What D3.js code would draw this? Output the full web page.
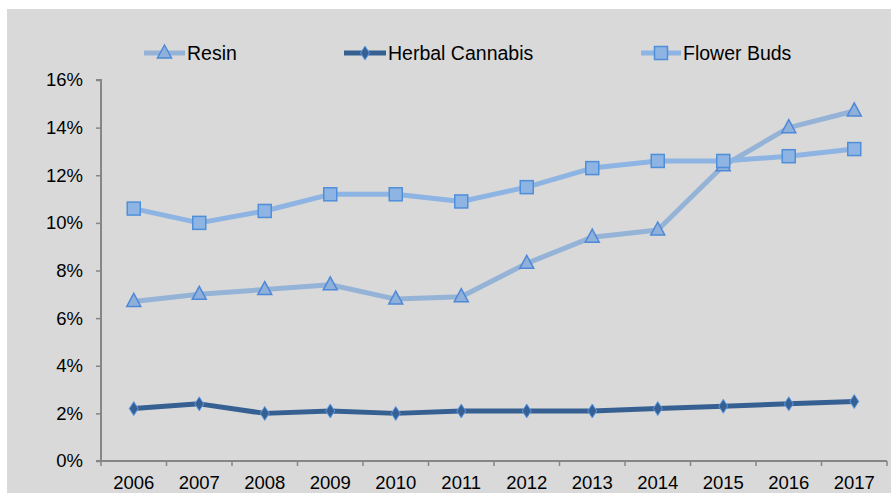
<!DOCTYPE html>
<html><head><meta charset="utf-8">
<script src="https://cdn.jsdelivr.net/npm/d3@7"></script>
<style>body{margin:0;background:#fff}svg{display:block}text{font-family:"Liberation Sans",Arial,sans-serif;fill:#000}</style>
</head><body><svg id="c" width="891" height="497"></svg>
<script>
const years = ["2006","2007","2008","2009","2010","2011","2012","2013","2014","2015","2016","2017"];
const resin = [6.7,7.0,7.2,7.4,6.8,6.9,8.3,9.4,9.7,12.4,14.0,14.7];
const herbal = [2.2,2.4,2.0,2.1,2.0,2.1,2.1,2.1,2.2,2.3,2.4,2.5];
const flowerBuds = [10.6,10.0,10.5,11.2,11.2,10.9,11.5,12.3,12.6,12.6,12.8,13.1];
const yTicks = [0,2,4,6,8,10,12,14,16];

const svg = d3.select("#c");
svg.append("rect").attr("x",7).attr("y",9).attr("width",884).attr("height",484).attr("fill","#d9d9d9");

const x = d3.scaleBand().domain(years).range([101,887]);
const y = d3.scaleLinear().domain([0,16]).range([461,80]);

// y axis
const ya = svg.append("g").attr("transform","translate(101,0)")
  .call(d3.axisLeft(y).tickValues(yTicks).tickFormat(d=>d+"%").tickSize(5).tickPadding(13));
ya.select(".domain").attr("stroke","#868686").attr("stroke-width",2).attr("d","M-5,80H0V461H-5");
ya.selectAll(".tick line").attr("stroke","#868686").attr("stroke-width",1.5);
ya.selectAll("text").attr("font-size",18.5).style("font-family","'Liberation Sans',Arial,sans-serif").attr("fill","#000");

// x axis
const xa = svg.append("g").attr("transform","translate(0,461)");
xa.append("line").attr("x1",97).attr("x2",887).attr("y1",0).attr("y2",0).attr("stroke","#868686").attr("stroke-width",2);
const bounds = years.map(d=>x(d)).concat([x.range()[1]]);
xa.selectAll("line.t").data(bounds).join("line").attr("class","t")
  .attr("x1",d=>d).attr("x2",d=>d).attr("y1",0).attr("y2",5).attr("stroke","#868686").attr("stroke-width",1.5);
xa.selectAll("text").data(years).join("text")
  .attr("x",d=>x(d)+x.bandwidth()/2).attr("y",28).attr("text-anchor","middle").attr("font-size",18.5).text(d=>d);

const cx = d=>x(d)+x.bandwidth()/2;
const line = d3.line().x((v,i)=>cx(years[i])).y(v=>y(v));

const series = [
  {name:"Resin", data:resin, line:"#95b3d7", fill:"#8fb0db", stroke:"#4e88d6", sym:"tri"},
  {name:"Herbal Cannabis", data:herbal, line:"#376092", fill:"#376092", stroke:"#5b9bea", sym:"dia"},
  {name:"Flower Buds", data:flowerBuds, line:"#8db4e2", fill:"#8db4e2", stroke:"#4f8fda", sym:"sq"}
];

function drawMarker(g, sym, px, py, s){
  if(sym==="tri"){
    g.append("path").attr("d",`M${px},${py-8}L${px+7},${py+5}L${px-7},${py+5}Z`)
      .attr("fill",s.fill).attr("stroke",s.stroke).attr("stroke-width",1.5);
  } else if(sym==="dia"){
    g.append("path").attr("d",`M${px},${py-7}L${px+4.5},${py}L${px},${py+7}L${px-4.5},${py}Z`)
      .attr("fill",s.fill).attr("stroke",s.stroke).attr("stroke-width",1);
  } else {
    g.append("rect").attr("x",px-6.5).attr("y",py-6.5).attr("width",13).attr("height",13)
      .attr("fill",s.fill).attr("stroke",s.stroke).attr("stroke-width",1.5);
  }
}

series.forEach(s=>{
  const g = svg.append("g");
  g.append("path").attr("d",line(s.data)).attr("fill","none").attr("stroke",s.line).attr("stroke-width",5).attr("stroke-linejoin","round");
  s.data.forEach((v,i)=>drawMarker(g,s.sym,cx(years[i]),y(v),s));
});

// legend
const legPos = [{x:144,w:41},{x:344,w:42},{x:641,w:40}];
series.forEach((s,i)=>{
  const g = svg.append("g");
  const lx = legPos[i].x, ly = 53;
  g.append("line").attr("x1",lx).attr("x2",lx+legPos[i].w).attr("y1",ly).attr("y2",ly).attr("stroke",s.line).attr("stroke-width",5);
  drawMarker(g,s.sym,lx+legPos[i].w/2,ly,s);
  g.append("text").attr("x",lx+legPos[i].w+2).attr("y",ly+7).attr("font-size",19.5).text(s.name);
});
</script></body></html>
